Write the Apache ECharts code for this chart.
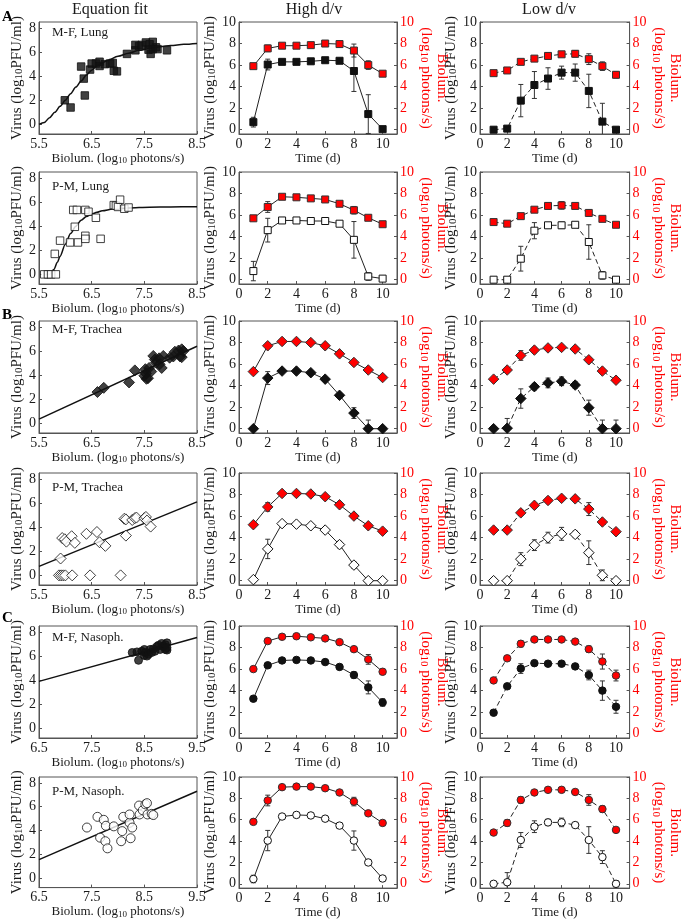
<!DOCTYPE html>
<html><head><meta charset="utf-8">
<script src="https://cdn.jsdelivr.net/npm/echarts@6/dist/echarts.min.js"></script>
<style>html,body{margin:0;padding:0;background:#fff}#c{width:683px;height:920px}</style>
</head><body><div id="c"></div><script>
// ---------- labels / ticks ----------
const columnTitles = ['Equation fit', 'High d/v', 'Low d/v'];
const sectionLetters = ['A', 'B', 'C'];
const panelLabels = ['M-F, Lung', 'P-M, Lung', 'M-F, Trachea', 'P-M, Trachea', 'M-F, Nasoph.', 'P-M, Nasoph.'];
const days = [1, 2, 3, 4, 5, 6, 7, 8, 9, 10];
const timeTicks = [0, 2, 4, 6, 8, 10];
const virusTicks = [0, 2, 4, 6, 8, 10];
const fitVirusTicks = [0, 2, 4, 6, 8];
const lungTracheaBiolumTicks = [5.5, 6.5, 7.5, 8.5];
const nasophBiolumTicks = [6.5, 7.5, 8.5, 9.5];

// ---------- row 1: M-F, Lung ----------
const mfLungBiolum = [5.99, 6.1, 6.3, 6.35, 6.37, 6.47, 6.5, 6.58, 6.65, 6.65, 6.75, 6.85, 6.9, 6.92, 6.98, 7.17, 7.33, 7.33, 7.4, 7.45, 7.53, 7.58, 7.6, 7.62, 7.66, 7.66, 7.72, 7.75, 7.93];
const mfLungVirus  = [2.0, 1.4, 4.8, 3.8, 2.4, 4.55, 5.05, 5.05, 5.2, 4.85, 5.0, 5.05, 5.1, 4.45, 4.4, 5.85, 6.6, 6.15, 6.5, 6.6, 6.8, 6.2, 6.65, 5.85, 6.25, 6.85, 6.4, 6.25, 6.15];
const mfLungFitBiolum = [5.5, 5.6, 5.7, 5.8, 5.9, 6.0, 6.1, 6.2, 6.3, 6.4, 6.5, 6.6, 6.7, 6.8, 7.0, 7.2, 7.4, 7.6, 7.8, 8.0, 8.25, 8.5];
const mfLungFitVirus  = [0.0, 0.15, 0.55, 1.0, 1.5, 2.0, 2.55, 3.1, 3.6, 4.1, 4.5, 4.85, 5.1, 5.3, 5.65, 5.9, 6.15, 6.3, 6.45, 6.55, 6.65, 6.72];
const mfLungHighVirus     = [0.7, 6.05, 6.3, 6.3, 6.35, 6.45, 6.4, 5.45, 1.45, 0.05];
const mfLungHighVirusErr  = [0.45, 0.5, 0.15, 0.1, 0.1, 0.1, 0.15, 1.9, 1.8, 0];
const mfLungHighBiolum    = [5.9, 7.55, 7.8, 7.8, 7.85, 8.0, 7.95, 7.35, 6.0, 5.2];
const mfLungHighBiolumErr = [0.15, 0.3, 0.15, 0.15, 0.15, 0.15, 0.2, 0.6, 0.4, 0.15];
const mfLungLowVirus      = [0, 0.1, 2.7, 4.15, 4.75, 5.3, 5.3, 3.6, 0.75, 0];
const mfLungLowVirusErr   = [0, 0, 1.5, 1.25, 1.0, 0.6, 0.8, 1.55, 1.7, 0];
const mfLungLowBiolum     = [5.25, 5.5, 6.3, 6.6, 6.85, 7.0, 7.05, 6.55, 5.9, 5.1];
const mfLungLowBiolumErr  = [0.1, 0.1, 0.2, 0.2, 0.3, 0.2, 0.3, 0.5, 0.4, 0.3];

// ---------- row 2: P-M, Lung ----------
const pmLungBiolum = [5.6, 5.67, 5.73, 5.82, 5.8, 5.9, 6.09, 6.18, 6.15, 6.22, 6.24, 6.38, 6.44, 6.38, 6.38, 6.58, 6.67, 6.92, 6.96, 7.0, 7.04, 7.12, 7.2];
const pmLungVirus  = [0, 0, 0, 0, 1.7, 2.8, 2.65, 3.95, 5.35, 5.35, 2.65, 5.35, 5.2, 3.2, 2.95, 4.7, 2.95, 5.75, 5.7, 5.6, 6.2, 5.45, 5.55];
const pmLungFitBiolum = [5.62, 5.7, 5.78, 5.85, 5.9, 6.0, 6.1, 6.2, 6.3, 6.4, 6.5, 6.6, 6.7, 6.9, 7.2, 7.6, 8.0, 8.5];
const pmLungFitVirus  = [0, 0, 0.4, 1.0, 1.5, 2.5, 3.4, 4.0, 4.5, 4.8, 5.0, 5.15, 5.28, 5.42, 5.52, 5.58, 5.6, 5.62];
const pmLungHighVirus     = [0.8, 4.6, 5.5, 5.5, 5.45, 5.45, 5.2, 3.7, 0.3, 0.1];
const pmLungHighVirusErr  = [0.9, 1.1, 0.15, 0.1, 0.1, 0.1, 0.2, 1.7, 0.35, 0];
const pmLungHighBiolum    = [5.7, 6.75, 7.7, 7.65, 7.55, 7.45, 7.05, 6.45, 5.75, 5.15];
const pmLungHighBiolumErr = [0.15, 0.5, 0.2, 0.15, 0.15, 0.15, 0.2, 0.35, 0.15, 0.1];
const pmLungLowVirus      = [0, 0, 1.95, 4.55, 5.05, 5.05, 5.1, 3.5, 0.4, 0];
const pmLungLowVirusErr   = [0, 0, 1.15, 0.75, 0.2, 0.3, 0.2, 1.6, 0.35, 0];
const pmLungLowBiolum     = [5.35, 5.2, 5.9, 6.5, 6.85, 6.9, 6.85, 6.2, 5.65, 5.1];
const pmLungLowBiolumErr  = [0.1, 0.1, 0.15, 0.2, 0.3, 0.35, 0.2, 0.3, 0.15, 0.1];

// ---------- row 3: M-F, Trachea ----------
const mfTracheaBiolum = [6.61, 6.73, 7.21, 7.32, 7.5, 7.52, 7.54, 7.53, 7.57, 7.59, 7.63, 7.67, 7.7, 7.72, 7.78, 7.79, 7.83, 7.86, 7.98, 8.05, 8.08, 8.15, 8.18, 8.21, 8.21, 8.24];
const mfTracheaVirus  = [2.6, 2.95, 3.4, 4.4, 3.95, 4.5, 3.7, 4.15, 3.75, 4.6, 4.3, 5.6, 5.3, 5.05, 5.4, 4.9, 4.6, 5.6, 5.45, 5.55, 5.95, 6.05, 5.55, 6.15, 5.5, 6.0];
const mfTracheaFitBiolum = [5.5, 8.5];
const mfTracheaFitVirus  = [0.35, 6.4];
const mfTracheaHighVirus     = [0, 4.7, 5.35, 5.35, 5.2, 4.6, 3.1, 1.45, 0, 0];
const mfTracheaHighVirusErr  = [0, 0.6, 0.1, 0.1, 0.15, 0.15, 0.2, 0.5, 0.8, 0];
const mfTracheaHighBiolum    = [5.3, 7.7, 8.1, 8.1, 8.0, 7.7, 6.95, 6.15, 5.45, 4.75];
const mfTracheaHighBiolumErr = [0.2, 0.25, 0.15, 0.15, 0.15, 0.2, 0.2, 0.2, 0.2, 0.15];
const mfTracheaLowVirus      = [0, 0.05, 2.8, 3.9, 4.25, 4.4, 4.05, 1.95, 0, 0];
const mfTracheaLowVirusErr   = [0, 0.9, 0.9, 0.3, 0.45, 0.4, 0.3, 0.7, 0.8, 0.8];
const mfTracheaLowBiolum     = [4.6, 5.45, 6.8, 7.3, 7.5, 7.55, 7.4, 6.4, 5.35, 4.5];
const mfTracheaLowBiolumErr  = [0.15, 0.2, 0.45, 0.25, 0.2, 0.2, 0.2, 0.2, 0.2, 0.2];

// ---------- row 4: P-M, Trachea ----------
const pmTracheaBiolum = [5.91, 5.94, 5.99, 6.02, 6.12, 6.18, 6.4, 6.6, 6.65, 6.76, 7.12, 7.15, 7.27, 7.32, 7.35, 7.5, 7.53, 7.55, 7.62, 7.15, 5.88, 5.92, 5.96, 6.0, 6.13, 6.47, 7.05];
const pmTracheaVirus  = [1.4, 3.1, 3.0, 2.8, 3.25, 2.7, 3.45, 3.6, 2.75, 2.45, 4.7, 4.65, 4.6, 4.75, 4.8, 4.75, 4.85, 4.55, 4.05, 3.3, 0, 0, 0, 0, 0, 0, 0];
const pmTracheaFitBiolum = [5.5, 8.5];
const pmTracheaFitVirus  = [0.75, 6.1];
const pmTracheaHighVirus     = [0.1, 2.95, 5.3, 5.25, 5.1, 4.7, 3.35, 1.45, 0, 0];
const pmTracheaHighVirusErr  = [0.1, 0.9, 0.15, 0.1, 0.15, 0.1, 0.3, 0.3, 0, 0];
const pmTracheaHighBiolum    = [5.2, 6.85, 8.1, 8.1, 8.05, 7.8, 7.05, 6.0, 5.1, 4.6];
const pmTracheaHighBiolumErr = [0.15, 0.4, 0.15, 0.15, 0.15, 0.15, 0.2, 0.2, 0.15, 0.1];
const pmTracheaLowVirus      = [0, 0, 2.0, 3.3, 4.0, 4.35, 4.3, 2.6, 0.5, 0];
const pmTracheaLowVirusErr   = [0, 0, 0.6, 0.5, 0.5, 0.6, 0.3, 1.1, 0.5, 0];
const pmTracheaLowBiolum     = [4.7, 4.7, 6.3, 7.0, 7.45, 7.65, 7.6, 6.65, 5.45, 4.55];
const pmTracheaLowBiolumErr  = [0.1, 0.1, 0.25, 0.15, 0.2, 0.2, 0.2, 0.6, 0.2, 0.1];

// ---------- row 5: M-F, Nasoph. ----------
const mfNasophBiolum = [8.27, 8.36, 8.39, 8.45, 8.5, 8.5, 8.52, 8.55, 8.58, 8.61, 8.64, 8.67, 8.7, 8.74, 8.77, 8.8, 8.83, 8.86, 8.9, 8.9, 8.93, 8.93, 8.93];
const mfNasophVirus  = [6.3, 6.35, 5.65, 6.4, 6.55, 6.05, 6.3, 6.0, 6.15, 6.55, 6.3, 6.6, 6.4, 6.8, 6.9, 6.55, 7.05, 6.8, 6.55, 6.95, 7.1, 6.5, 6.7];
const mfNasophFitBiolum = [6.5, 9.5];
const mfNasophFitVirus  = [3.9, 7.55];
const mfNasophHighVirus     = [3.25, 6.35, 6.8, 6.85, 6.8, 6.65, 6.2, 5.45, 4.3, 2.9];
const mfNasophHighVirusErr  = [0.1, 0.2, 0.15, 0.1, 0.15, 0.15, 0.2, 0.3, 0.6, 0.35];
const mfNasophHighBiolum    = [6.0, 8.6, 9.0, 9.05, 8.95, 8.85, 8.5, 7.85, 6.9, 5.75];
const mfNasophHighBiolumErr = [0.1, 0.2, 0.15, 0.1, 0.1, 0.15, 0.15, 0.2, 0.45, 0.25];
const mfNasophLowVirus      = [1.95, 4.4, 6.05, 6.55, 6.5, 6.5, 6.25, 5.45, 4.0, 2.5];
const mfNasophLowVirusErr   = [0.1, 0.2, 0.45, 0.15, 0.15, 0.1, 0.2, 0.45, 0.9, 0.6];
const mfNasophLowBiolum     = [4.95, 7.0, 8.35, 8.75, 8.75, 8.75, 8.55, 7.85, 6.7, 5.4];
const mfNasophLowBiolumErr  = [0.1, 0.2, 0.3, 0.1, 0.1, 0.1, 0.15, 0.3, 0.7, 0.5];

// ---------- row 6: P-M, Nasoph. ----------
const pmNasophBiolum = [7.41, 7.61, 7.73, 7.77, 7.66, 7.76, 7.8, 7.92, 8.06, 8.08, 8.1, 8.22, 8.22, 8.27, 8.24, 8.4, 8.41, 8.47, 8.52, 8.55, 8.56, 8.64, 8.67];
const pmNasophVirus  = [4.25, 5.15, 4.9, 4.4, 3.4, 3.1, 2.5, 4.35, 3.1, 3.95, 5.15, 4.65, 5.35, 4.25, 3.35, 6.1, 5.35, 5.7, 6.2, 6.3, 5.35, 5.4, 5.3];
const pmNasophFitBiolum = [6.5, 9.5];
const pmNasophFitVirus  = [1.55, 7.3];
const pmNasophHighVirus     = [0.45, 4.05, 6.3, 6.45, 6.4, 6.1, 5.45, 4.05, 2.0, 0.5];
const pmNasophHighVirusErr  = [0.35, 0.95, 0.15, 0.1, 0.1, 0.15, 0.2, 0.9, 0.2, 0.2];
const pmNasophHighBiolum    = [5.8, 7.8, 9.05, 9.1, 9.1, 8.95, 8.55, 7.7, 6.6, 5.7];
const pmNasophHighBiolumErr = [0.1, 0.5, 0.15, 0.1, 0.1, 0.1, 0.15, 0.4, 0.15, 0.15];
const pmNasophLowVirus      = [0, 0.15, 4.1, 5.35, 5.75, 5.75, 5.5, 4.1, 2.5, 0];
const pmNasophLowVirusErr   = [0, 0.9, 0.7, 0.55, 0.3, 0.4, 0.2, 1.25, 0.6, 0.3];
const pmNasophLowBiolum     = [4.8, 5.7, 7.85, 8.55, 8.8, 8.8, 8.6, 7.85, 7.0, 5.05];
const pmNasophLowBiolumErr  = [0.2, 0.3, 0.3, 0.15, 0.15, 0.15, 0.15, 0.5, 0.3, 0.15];

// ---------- assembly ----------
const rows = [
  {sx: mfLungBiolum, sy: mfLungVirus, fx: mfLungFitBiolum, fy: mfLungFitVirus, xt: lungTracheaBiolumTicks,
   hv: mfLungHighVirus, hve: mfLungHighVirusErr, hb: mfLungHighBiolum, hbe: mfLungHighBiolumErr,
   lv: mfLungLowVirus, lve: mfLungLowVirusErr, lb: mfLungLowBiolum, lbe: mfLungLowBiolumErr},
  {sx: pmLungBiolum, sy: pmLungVirus, fx: pmLungFitBiolum, fy: pmLungFitVirus, xt: lungTracheaBiolumTicks,
   hv: pmLungHighVirus, hve: pmLungHighVirusErr, hb: pmLungHighBiolum, hbe: pmLungHighBiolumErr,
   lv: pmLungLowVirus, lve: pmLungLowVirusErr, lb: pmLungLowBiolum, lbe: pmLungLowBiolumErr},
  {sx: mfTracheaBiolum, sy: mfTracheaVirus, fx: mfTracheaFitBiolum, fy: mfTracheaFitVirus, xt: lungTracheaBiolumTicks,
   hv: mfTracheaHighVirus, hve: mfTracheaHighVirusErr, hb: mfTracheaHighBiolum, hbe: mfTracheaHighBiolumErr,
   lv: mfTracheaLowVirus, lve: mfTracheaLowVirusErr, lb: mfTracheaLowBiolum, lbe: mfTracheaLowBiolumErr},
  {sx: pmTracheaBiolum, sy: pmTracheaVirus, fx: pmTracheaFitBiolum, fy: pmTracheaFitVirus, xt: lungTracheaBiolumTicks,
   hv: pmTracheaHighVirus, hve: pmTracheaHighVirusErr, hb: pmTracheaHighBiolum, hbe: pmTracheaHighBiolumErr,
   lv: pmTracheaLowVirus, lve: pmTracheaLowVirusErr, lb: pmTracheaLowBiolum, lbe: pmTracheaLowBiolumErr},
  {sx: mfNasophBiolum, sy: mfNasophVirus, fx: mfNasophFitBiolum, fy: mfNasophFitVirus, xt: nasophBiolumTicks,
   hv: mfNasophHighVirus, hve: mfNasophHighVirusErr, hb: mfNasophHighBiolum, hbe: mfNasophHighBiolumErr,
   lv: mfNasophLowVirus, lve: mfNasophLowVirusErr, lb: mfNasophLowBiolum, lbe: mfNasophLowBiolumErr},
  {sx: pmNasophBiolum, sy: pmNasophVirus, fx: pmNasophFitBiolum, fy: pmNasophFitVirus, xt: nasophBiolumTicks,
   hv: pmNasophHighVirus, hve: pmNasophHighVirusErr, hb: pmNasophHighBiolum, hbe: pmNasophHighBiolumErr,
   lv: pmNasophLowVirus, lve: pmNasophLowVirusErr, lb: pmNasophLowBiolum, lbe: pmNasophLowBiolumErr}
];

// ---------- styling / layout ----------
const FONT = '"Liberation Serif", "Times New Roman", serif';
const AX = '#555', TXT = '#1a1a1a', RED = '#ff0000', LINE = '#222';
const rowTops = [22, 172, 321, 473, 626, 777];
const H = 112;
const colLeft = [39, 239, 480];
const colW = [158, 158, 155];
const rowSymbols = ['rect', 'rect', 'diamond', 'diamond', 'circle', 'circle'];
const rowOpen = [false, true, false, true, false, true];
const fitSizes = [7.5, 7.5, 11, 11, 8, 9];
const tsSizes = [7, 7, 10.5, 10.5, 7.5, 7.5];
const labelY = [33, 187, 330, 488, 638, 792];
const letterY = [17, 315, 618];

function rich(size, color) {
  return {
    n: {fontSize: size, fontFamily: FONT, color: color, lineHeight: size + 1},
    s: {fontSize: Math.round(size * 0.7), fontFamily: FONT, color: color, lineHeight: 8, verticalAlign: 'bottom'}
  };
}

const option = {animation: false, backgroundColor: '#fff', grid: [], xAxis: [], yAxis: [], series: [], graphic: []};

function addX(gi, min, max, ticks, name, gap) {
  option.xAxis.push({
    gridIndex: gi, type: 'value', min: min, max: max, splitLine: {show: false},
    axisLine: {show: true, onZero: false, lineStyle: {color: AX, width: 1}},
    axisTick: {show: true, inside: true, length: 3, customValues: ticks, lineStyle: {color: AX}},
    axisLabel: {customValues: ticks, color: TXT, fontSize: 14, fontFamily: FONT, margin: 3},
    name: name, nameLocation: 'middle', nameGap: gap, nameTextStyle: {rich: rich(13, TXT)}
  });
  return option.xAxis.length - 1;
}
function addY(gi, min, max, ticks, pos, name, gap, color, rot) {
  option.yAxis.push({
    gridIndex: gi, type: 'value', position: pos, min: min, max: max, splitLine: {show: false},
    axisLine: {show: true, onZero: false, lineStyle: {color: AX, width: 1}},
    axisTick: {show: true, inside: true, length: 3, customValues: ticks, lineStyle: {color: AX}},
    axisLabel: {customValues: ticks, color: color, fontSize: 14, fontFamily: FONT, margin: 3},
    name: name, nameLocation: 'middle', nameGap: gap, nameRotate: rot, nameTextStyle: {rich: rich(15, color)}
  });
  return option.yAxis.length - 1;
}
function markerStyle(fill, border) {
  return {color: fill, borderColor: border, borderWidth: 1};
}
function errSeries(xi, yi, xs, ys, es) {
  return {
    type: 'custom', xAxisIndex: xi, yAxisIndex: yi, z: 1, clip: true, silent: true,
    encode: {x: 0, y: [1, 2]},
    data: xs.map((x, i) => [x, ys[i] - es[i], ys[i] + es[i]]),
    renderItem: function (params, api) {
      const x = api.value(0), lo = api.value(1), hi = api.value(2);
      const a = api.coord([x, hi]), b = api.coord([x, lo]);
      const c = 2.5;
      const st = {stroke: '#333', lineWidth: 1};
      return {type: 'group', children: [
        {type: 'line', shape: {x1: a[0], y1: a[1], x2: b[0], y2: b[1]}, style: st},
        {type: 'line', shape: {x1: a[0] - c, y1: a[1], x2: a[0] + c, y2: a[1]}, style: st},
        {type: 'line', shape: {x1: b[0] - c, y1: b[1], x2: b[0] + c, y2: b[1]}, style: st}
      ]};
    }
  };
}

const virusName = '{n|Virus (log}{s|10}{n|PFU/ml)}';
const biolumRightName = '{n|Biolum.}\n{n|(log}{s|10}{n| photons/s)}';
const biolumXName = '{n|Biolum. (log}{s|10}{n| photons/s)}';
const timeName = '{n|Time (d)}';

rows.forEach((row, r) => {
  const top = rowTops[r];
  const sym = rowSymbols[r];
  const vFill = rowOpen[r] ? '#fff' : '#111';
  // ---- column 1: equation fit ----
  option.grid.push({left: colLeft[0], top: top, width: colW[0], height: H, show: true, borderColor: AX, borderWidth: 1, backgroundColor: 'transparent'});
  let gi = option.grid.length - 1;
  let xi = addX(gi, row.xt[0], row.xt[row.xt.length - 1], row.xt, biolumXName, 15);
  let yi = addY(gi, -0.8, 8.5, fitVirusTicks, 'left', virusName, 8, TXT, 90);
  option.series.push({
    type: 'line', xAxisIndex: xi, yAxisIndex: yi, showSymbol: false, smooth: 0.3, smoothMonotone: 'x', z: 2,
    data: row.fx.map((x, i) => [x, row.fy[i]]), lineStyle: {color: '#111', width: 1.5}, clip: true
  });
  option.series.push({
    type: 'scatter', xAxisIndex: xi, yAxisIndex: yi, symbol: sym, symbolSize: fitSizes[r], z: 3,
    data: row.sx.map((x, i) => [x, row.sy[i]]), itemStyle: markerStyle(vFill, '#111')
  });
  option.graphic.push({type: 'text', x: 52, y: labelY[r], style: {text: panelLabels[r], font: '13px ' + FONT, fill: TXT, align: 'left', verticalAlign: 'middle'}});

  // ---- columns 2 & 3: time courses ----
  [['hv', 'hve', 'hb', 'hbe', 'solid'], ['lv', 'lve', 'lb', 'lbe', [5, 3]]].forEach((keys, k) => {
    const c = k + 1;
    option.grid.push({left: colLeft[c], top: top, width: colW[c], height: H, show: true, borderColor: AX, borderWidth: 1, backgroundColor: 'transparent'});
    const g = option.grid.length - 1;
    const x2 = addX(g, 0, 11, timeTicks, timeName, 13);
    const yl = addY(g, -0.4, 10, virusTicks, 'left', virusName, c === 1 ? 9 : 16, TXT, 90);
    const yr = addY(g, -0.4, 10, virusTicks, 'right', biolumRightName, 17, RED, -90);
    const v = row[keys[0]], ve = row[keys[1]], b = row[keys[2]], be = row[keys[3]];
    option.series.push(errSeries(x2, yr, days, b, be));
    option.series.push(errSeries(x2, yl, days, v, ve));
    option.series.push({
      type: 'line', xAxisIndex: x2, yAxisIndex: yr, symbol: sym, symbolSize: tsSizes[r], z: 3,
      data: days.map((d, i) => [d, b[i]]), lineStyle: {color: LINE, width: 1, type: keys[4]},
      itemStyle: markerStyle(RED, '#333')
    });
    option.series.push({
      type: 'line', xAxisIndex: x2, yAxisIndex: yl, symbol: sym, symbolSize: tsSizes[r], z: 3,
      data: days.map((d, i) => [d, v[i]]), lineStyle: {color: LINE, width: 1, type: keys[4]},
      itemStyle: markerStyle(vFill, '#111')
    });
  });
});

// column titles and section letters
const titleX = [110, 314, 549];
columnTitles.forEach((t, i) => option.graphic.push({type: 'text', x: titleX[i], y: 10, style: {text: t, font: '16px ' + FONT, fill: TXT, align: 'center', verticalAlign: 'middle'}}));
sectionLetters.forEach((t, i) => option.graphic.push({type: 'text', x: 2, y: letterY[i], style: {text: t, font: 'bold 15px ' + FONT, fill: '#000', align: 'left', verticalAlign: 'middle'}}));

const chart = echarts.init(document.getElementById('c'), null, {renderer: 'canvas'});
chart.setOption(option);
</script></body></html>
